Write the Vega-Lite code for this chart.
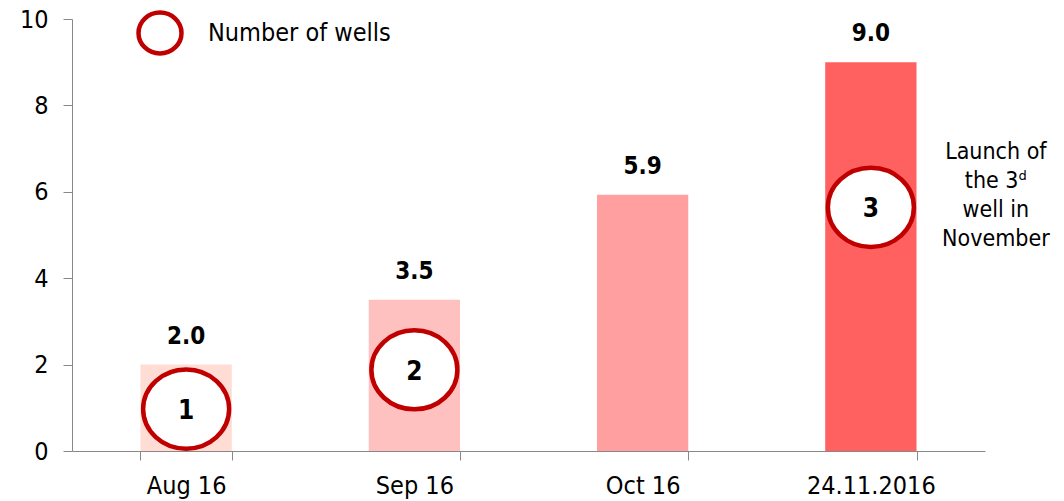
{
  "$schema": "https://vega.github.io/schema/vega-lite/v6.json",
  "autosize": "none",
  "padding": {"left": 72, "top": 19, "right": 79, "bottom": 50},
  "width": 913,
  "height": 432,
  "config": {
    "font": "DejaVu Sans Condensed",
    "view": {"stroke": null}
  },
  "data": {
    "values": [
      {"month": "Aug 16", "value": 2.0, "wells": "1", "circleY": 0.97, "series": "Number of wells"},
      {"month": "Sep 16", "value": 3.5, "wells": "2", "circleY": 1.88, "series": "Number of wells"},
      {"month": "Oct 16", "value": 5.93, "wells": null, "circleY": null, "series": "Number of wells"},
      {"month": "24.11.2016", "value": 9.0, "wells": "3", "circleY": 5.64, "series": "Number of wells"}
    ]
  },
  "encoding": {
    "x": {
      "field": "month",
      "type": "nominal",
      "sort": null,
      "scale": {"paddingInner": 0.6, "paddingOuter": 0.3},
      "axis": {
        "title": null,
        "labelAngle": 0,
        "tickBand": "extent",
        "tickSize": 9,
        "tickColor": "#888888",
        "domainColor": "#888888",
        "labelFontSize": 25,
        "labelColor": "#000000",
        "labelPadding": 13
      }
    }
  },
  "layer": [
    {
      "mark": {"type": "bar"},
      "encoding": {
        "y": {
          "field": "value",
          "type": "quantitative",
          "scale": {"domain": [0, 10], "nice": false},
          "axis": {
            "title": null,
            "values": [0, 2, 4, 6, 8, 10],
            "grid": false,
            "tickSize": 9,
            "tickColor": "#888888",
            "domainColor": "#888888",
            "labelFontSize": 25,
            "labelColor": "#000000",
            "labelPadding": 15
          }
        },
        "color": {
          "field": "month",
          "type": "nominal",
          "sort": null,
          "scale": {"domain": ["Aug 16", "Sep 16", "Oct 16", "24.11.2016"], "range": ["#FFDDD4", "#FFC0C0", "#FF9F9F", "#FF6060"]},
          "legend": null
        }
      }
    },
    {
      "mark": {"type": "text", "baseline": "bottom", "dy": -16, "fontWeight": "bold", "fontSize": 24, "color": "#000000"},
      "encoding": {
        "y": {"field": "value", "type": "quantitative"},
        "text": {"field": "value", "type": "quantitative", "format": ".1f"}
      }
    },
    {
      "transform": [{"filter": "datum.circleY != null"}],
      "mark": {
        "type": "point",
        "filled": false,
        "fill": "#FFFFFF",
        "fillOpacity": 1,
        "opacity": 1,
        "strokeWidth": 4.5,
        "size": 7396,
        "shape": "M-1,0A1,0.92,0,1,1,1,0A1,0.92,0,1,1,-1,0Z"
      },
      "encoding": {
        "y": {"field": "circleY", "type": "quantitative"},
        "stroke": {
          "field": "series",
          "type": "nominal",
          "scale": {"range": ["#C00000"]},
          "legend": {
            "title": null,
            "orient": "none",
            "legendX": 64,
            "legendY": -10,
            "padding": 0,
            "symbolType": "M-1,0A1,0.95,0,1,1,1,0A1,0.95,0,1,1,-1,0Z",
            "symbolSize": 1849,
            "symbolStrokeWidth": 4.5,
            "symbolFillColor": "#FFFFFF",
            "labelFontSize": 25,
            "labelColor": "#000000",
            "labelOffset": 24,
            "labelLimit": 0
          }
        }
      }
    },
    {
      "transform": [{"filter": "datum.circleY != null"}],
      "mark": {"type": "text", "baseline": "middle", "fontWeight": "bold", "fontSize": 26, "color": "#000000", "dy": 2},
      "encoding": {
        "y": {"field": "circleY", "type": "quantitative"},
        "text": {"field": "wells", "type": "nominal"}
      }
    },
    {
      "data": {"values": [{"month": "24.11.2016", "noteY": 6.92}]},
      "mark": {
        "type": "text",
        "text": ["Launch of", "the 3ᵈ", "well in", "November"],
        "align": "center",
        "baseline": "middle",
        "fontSize": 23,
        "lineHeight": 29,
        "dx": 125,
        "color": "#000000"
      },
      "encoding": {
        "x": {"field": "month", "type": "nominal"},
        "y": {"field": "noteY", "type": "quantitative"}
      }
    }
  ]
}
